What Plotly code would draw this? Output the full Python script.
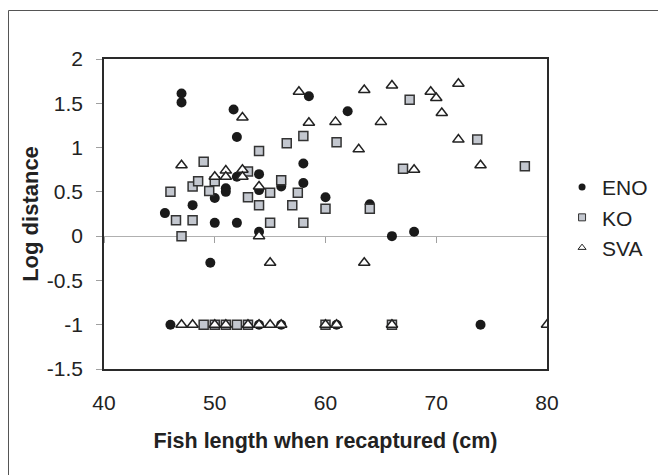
import plotly.graph_objects as go

# ---- data ----
eno_x = [45.5, 47, 47, 48, 49.6, 50, 50, 51, 51, 51.7, 52, 52, 52, 54, 54, 54, 56, 58, 58, 58.5,
         60, 62, 64, 66, 68, 46, 54, 56, 61, 66, 74]
eno_y = [0.26, 1.61, 1.51, 0.35, -0.30, 0.43, 0.15, 0.54, 0.50, 1.43, 1.12, 0.67, 0.15, 0.70, 0.52, 0.05, 0.56, 0.82, 0.60, 1.58,
         0.44, 1.41, 0.36, 0.0, 0.05, -1, -1, -1, -1, -1, -1]

ko_x = [46, 46.5, 47, 48, 48, 48.5, 49, 49.5, 50, 53, 53, 54, 54, 55, 55, 56, 56.5, 57, 57.5, 58, 58,
        60, 61, 64, 67, 67.6, 73.7, 78, 49, 50, 51, 52, 53, 60, 66]
ko_y = [0.50, 0.18, 0.0, 0.56, 0.18, 0.62, 0.84, 0.51, 0.62, 0.73, 0.44, 0.96, 0.35, 0.49, 0.15, 0.63, 1.05, 0.35, 0.49, 1.13, 0.15,
        0.31, 1.06, 0.31, 0.76, 1.54, 1.09, 0.79, -1, -1, -1, -1, -1, -1, -1]

sva_x = [47, 50, 51, 51, 52.5, 52.5, 52.5, 54, 54, 55, 57.6, 58.5, 60.9, 63, 63.5, 63.5, 65, 66, 68, 69.5, 70, 70.5,
         72, 72, 74, 47, 48, 50, 51, 53, 54, 55, 56, 60, 61, 66, 80]
sva_y = [0.80, 0.67, 0.74, 0.67, 1.34, 0.75, 0.67, 0.56, 0.0, -0.30, 1.63, 1.28, 1.29, 0.98, 1.65, -0.30, 1.29, 1.70, 0.75, 1.63, 1.56, 1.39,
         1.72, 1.09, 0.80, -1, -1, -1, -1, -1, -1, -1, -1, -1, -1, -1, -1]

series_names = ["ENO", "KO", "SVA"]
x_ticks = [40, 50, 60, 70, 80]
y_ticks = [-1.5, -1, -0.5, 0, 0.5, 1, 1.5, 2]
y_tick_text = ["-1.5", "-1", "-0.5", "0", "0.5", "1", "1.5", "2"]

FONT = "Liberation Sans, Arial, sans-serif"
DARK = "#222222"

styles = {
    "ENO": dict(symbol="circle", color="#1a1a1a", line=dict(color="#1a1a1a", width=0)),
    "KO": dict(symbol="square", color="#c3c7cf", line=dict(color="#333333", width=1.5)),
    "SVA": dict(symbol="triangle-up", color="white", line=dict(color="#222222", width=1.5)),
}
sizes = {"ENO": 10, "KO": 9, "SVA": 10}

fig = go.Figure()
for name, xs, ys in zip(series_names, [eno_x, ko_x, sva_x], [eno_y, ko_y, sva_y]):
    st = styles[name]
    fig.add_trace(go.Scatter(x=xs, y=ys, mode="markers", name=name, showlegend=False,
                             marker=dict(symbol=st["symbol"], color=st["color"], size=sizes[name], line=st["line"])))
# legend entries (small symbols like the reference)
for i, name in enumerate(series_names):
    st = styles[name]
    fig.add_trace(go.Scatter(x=[None], y=[None], mode="markers", name=name,
                             marker=dict(symbol=st["symbol"], color=st["color"], size=7,
                                         line=dict(color=st["line"]["color"], width=1 if name != "ENO" else 0))))

# invisible helper trace so the zero-crossing tick axis is drawn
fig.add_trace(go.Scatter(x=[40, 80], y=[None, None], xaxis="x2", yaxis="y", mode="markers",
                         showlegend=False, hoverinfo="skip", marker=dict(opacity=0)))

fig.update_layout(
    width=658, height=475, autosize=False,
    margin=dict(l=104, r=111, t=59, b=106, pad=0, autoexpand=False),
    paper_bgcolor="white", plot_bgcolor="white",
    font=dict(family=FONT, color=DARK, size=21),
    xaxis=dict(range=[40, 80], tickvals=x_ticks, ticks="outside", ticklen=14, tickcolor="rgba(0,0,0,0)",
               showline=True, mirror=True, linecolor="#2a2a2a", linewidth=1.5, showgrid=False, zeroline=False,
               tickfont=dict(size=21, family=FONT, color=DARK),
               title=dict(text="Fish length when recaptured (cm)", standoff=20,
                          font=dict(size=21.5, family=FONT, color=DARK, weight="bold"))),
    xaxis2=dict(range=[40, 80], overlaying="x", anchor="free", position=1.5 / 3.5, side="bottom",
                tickvals=x_ticks, ticks="outside", ticklen=6, tickcolor="#a0a0a0", tickwidth=1,
                showticklabels=False, showline=False, showgrid=False, zeroline=False, layer="below traces"),
    yaxis=dict(range=[-1.5, 2], tickvals=y_ticks, ticktext=y_tick_text, ticks="outside", ticklen=6,
               tickcolor="#a0a0a0", tickwidth=1, ticklabelstandoff=9,
               showline=True, mirror=True, linecolor="#2a2a2a", linewidth=1.5, showgrid=False,
               zeroline=True, zerolinecolor="#b0b0b0", zerolinewidth=1,
               tickfont=dict(size=21, family=FONT, color=DARK),
               title=dict(text="Log distance", standoff=2,
                          font=dict(size=22, family=FONT, color=DARK, weight="bold"))),
    legend=dict(x=1.034, xanchor="left", y=0.652, yanchor="top", bgcolor="rgba(0,0,0,0)",
                font=dict(size=21, family=FONT, color=DARK), tracegroupgap=0, itemwidth=30),
    shapes=[dict(type="rect", xref="paper", yref="paper", x0=(8.5 - 104) / 443, x1=1.4,
                 y0=-0.5, y1=1 + (59 - 10.5) / 310, line=dict(color="#555555", width=1),
                 fillcolor="rgba(0,0,0,0)", layer="below")],
)

fig.write_html("out.html", include_plotlyjs=True, config={"displayModeBar": False},
               post_script="document.body.style.margin='0';")
